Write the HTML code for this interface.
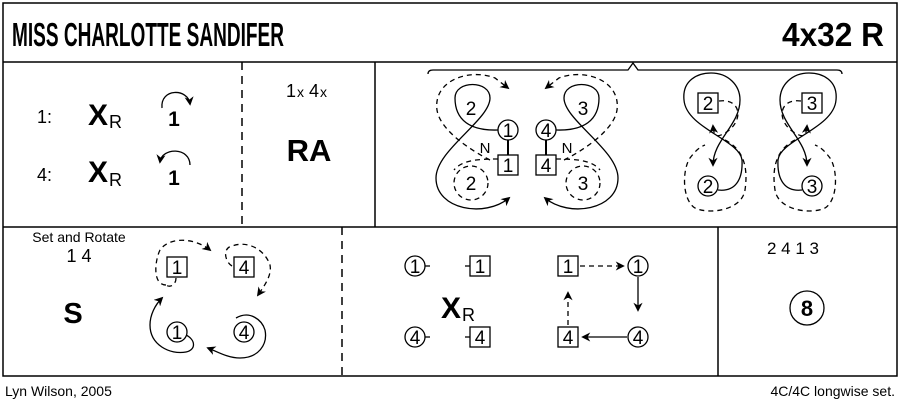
<!DOCTYPE html>
<html><head><meta charset="utf-8"><style>
html,body{margin:0;padding:0;background:#fff}
svg{display:block}
text{font-family:"Liberation Sans",sans-serif;fill:#000}
</style></head><body>
<svg width="900" height="408" viewBox="0 0 900 408" xmlns="http://www.w3.org/2000/svg">
<defs>
<marker id="a" viewBox="0 0 10 10" refX="8" refY="5" markerWidth="7" markerHeight="7" orient="auto"><path d="M0,0 L10,5 L0,10 L3,5 z" fill="#000"/></marker>
</defs>
<g fill="none" stroke="#000" stroke-width="1.5">
<rect x="3" y="3" width="894" height="373"/>
<line x1="3" y1="62" x2="897" y2="62"/>
<line x1="3" y1="227" x2="897" y2="227"/>
<line x1="375" y1="62" x2="375" y2="227"/>
<line x1="718" y1="227" x2="718" y2="376"/>
<line x1="242" y1="62" x2="242" y2="227" stroke-dasharray="8,6"/>
<line x1="342" y1="227" x2="342" y2="376" stroke-dasharray="8,6"/>
</g>
<text x="12" y="46" font-size="33" font-weight="bold" textLength="272" lengthAdjust="spacingAndGlyphs">MISS CHARLOTTE SANDIFER</text>
<text x="884" y="46" font-size="33" font-weight="bold" text-anchor="end" textLength="102" lengthAdjust="spacingAndGlyphs">4x32 R</text>

<!-- row 1 left -->
<text x="37" y="123" font-size="18">1:</text>
<text x="88" y="125" font-size="30" font-weight="bold">X</text><text x="109" y="128" font-size="18">R</text>
<text x="37" y="181" font-size="18">4:</text>
<text x="88" y="182" font-size="30" font-weight="bold">X</text><text x="109" y="186" font-size="18">R</text>
<text x="174" y="126" font-size="21" font-weight="bold" text-anchor="middle">1</text>
<text x="174" y="185" font-size="21" font-weight="bold" text-anchor="middle">1</text>
<g fill="none" stroke="#000" stroke-width="1.3">
<path d="M162,108 C160,88 188,88 190,104" marker-end="url(#a)"/>
<path d="M190,165 C190,147 162,147 160,162" marker-end="url(#a)"/>
</g>
<text x="286" y="97" font-size="18">1</text><text x="297" y="97" font-size="14">x</text>
<text x="309" y="97" font-size="18">4</text><text x="320" y="97" font-size="14">x</text>
<text x="309" y="161" font-size="31" font-weight="bold" text-anchor="middle">RA</text>

<!-- row 1 centre -->
<g fill="none" stroke="#000" stroke-width="1.3">
<path d="M428,74 Q428,70 433,70 L628,70 L633,63 L638,70 L837,70 Q842,70 842,74"/>
<path d="M498,130 C470,131 455,120 455,98 C455,80 490,80 490,98 C490,120 436,150 436,178 C436,210 485,218 509,198" marker-end="url(#a)"/>
<path d="M498,159 C478,159 462,160 454,170 M490,160 C470,150 440,130 437,110 C433,80 470,68 495,78 L508,88" stroke-dasharray="5,4" marker-end="url(#a)"/>
<circle cx="471" cy="183" r="17" stroke-dasharray="5,4"/>
<path d="M556,130 C584,131 599,120 599,98 C599,80 564,80 564,98 C564,120 618,150 618,178 C618,210 569,218 545,198" marker-end="url(#a)"/>
<path d="M564,160 C584,150 614,130 617,110 C621,80 584,68 559,78 L546,88" stroke-dasharray="5,4" marker-end="url(#a)"/>
<path d="M556,159 C576,159 592,160 600,170" stroke-dasharray="5,4"/>
<circle cx="583" cy="183" r="17" stroke-dasharray="5,4"/>
<circle cx="508" cy="130" r="10" fill="#fff"/>
<circle cx="546" cy="130" r="10" fill="#fff"/>
<line x1="508" y1="140" x2="508" y2="155" stroke-width="2"/>
<line x1="546" y1="140" x2="546" y2="155" stroke-width="2"/>
<rect x="498" y="155" width="20" height="20" fill="#fff"/>
<rect x="536" y="155" width="20" height="20" fill="#fff"/>
<!-- right figure eights -->
<g id="e8">
<path d="M718,190 C735,192 743,180 742,160 C740,140 686,128 684,100 C682,80 698,73 711,73 C728,73 740,85 740,100 C740,125 713,140 713,165" marker-end="url(#a)"/>
<path d="M719,101 C742,98 744,122 725,133 C718,137 714,138 713,126" stroke-dasharray="5,4" marker-end="url(#a)"/>
<path d="M725,140 C745,150 748,170 745,190 C742,210 710,215 695,208 C682,200 682,170 690,158 C696,150 700,147 705,145" stroke-dasharray="5,4"/>
<rect x="698" y="93" width="20" height="20" fill="#fff"/>
<circle cx="708" cy="186" r="10" fill="#fff"/>
</g>
<use href="#e8" transform="translate(1520,0) scale(-1,1)"/>
</g>
<g font-size="19" text-anchor="middle">
<text x="471" y="115">2</text><text x="583" y="115">3</text>
<text x="471" y="190">2</text><text x="583" y="190">3</text>
<text x="508" y="137">1</text><text x="546" y="137">4</text>
<text x="508" y="172">1</text><text x="546" y="172">4</text>
<text x="708" y="110">2</text><text x="812" y="110">3</text>
<text x="708" y="193">2</text><text x="812" y="193">3</text>
</g>
<text x="485" y="153" font-size="15" text-anchor="middle">N</text>
<text x="567" y="153" font-size="15" text-anchor="middle">N</text>

<!-- row 2 left -->
<text x="79" y="242" font-size="14" text-anchor="middle">Set and Rotate</text>
<text x="79" y="262" font-size="18" text-anchor="middle">1 4</text>
<text x="73" y="323" font-size="29" font-weight="bold" text-anchor="middle">S</text>
<g fill="none" stroke="#000" stroke-width="1.3">
<path d="M166,285 C152,285 155,260 160,250 C170,236 195,238 210,250" stroke-dasharray="5,4" marker-end="url(#a)"/>
<path d="M176,278 C176,285 170,288 166,285" stroke-dasharray="5,4"/>
<path d="M232,266 C225,262 222,248 232,246 C248,240 265,250 270,265 C272,275 265,285 258,295" stroke-dasharray="5,4" marker-end="url(#a)"/>
<path d="M186,335 C196,340 196,350 186,352 C170,355 150,345 150,325 C150,315 155,305 162,298" marker-end="url(#a)"/>
<path d="M236,318 C250,310 262,320 265,330 C268,345 258,358 240,358 C228,358 218,352 208,348" marker-end="url(#a)"/>
<rect x="167" y="257" width="20" height="20" fill="#fff"/>
<rect x="234" y="257" width="20" height="20" fill="#fff"/>
<circle cx="177" cy="332" r="10" fill="#fff"/>
<circle cx="244" cy="332" r="10" fill="#fff"/>
</g>
<g font-size="19" text-anchor="middle">
<text x="177" y="274">1</text><text x="244" y="274">4</text>
<text x="177" y="339">1</text><text x="244" y="339">4</text>
</g>

<!-- row 2 middle -->
<g fill="none" stroke="#000" stroke-width="1.3">
<circle cx="415" cy="266" r="10"/><circle cx="415" cy="337" r="10"/>
<line x1="425" y1="266" x2="430" y2="266"/><line x1="425" y1="337" x2="430" y2="337"/>
<line x1="465" y1="266" x2="470" y2="266"/><line x1="465" y1="337" x2="470" y2="337"/>
<rect x="470" y="256" width="20" height="20"/><rect x="470" y="327" width="20" height="20"/>
<rect x="558" y="256" width="20" height="20"/><rect x="558" y="327" width="20" height="20"/>
<circle cx="638" cy="266" r="10"/><circle cx="638" cy="337" r="10"/>
<line x1="580" y1="266" x2="623" y2="266" stroke-dasharray="5,4" marker-end="url(#a)"/>
<line x1="638" y1="277" x2="638" y2="310" marker-end="url(#a)"/>
<line x1="627" y1="337" x2="583" y2="337" marker-end="url(#a)"/>
<line x1="568" y1="325" x2="568" y2="293" stroke-dasharray="5,4" marker-end="url(#a)"/>
</g>
<g font-size="19" text-anchor="middle">
<text x="415" y="273">1</text><text x="415" y="344">4</text>
<text x="480" y="273">1</text><text x="480" y="344">4</text>
<text x="568" y="273">1</text><text x="568" y="344">4</text>
<text x="638" y="273">1</text><text x="638" y="344">4</text>
</g>
<text x="441" y="318" font-size="30" font-weight="bold">X</text><text x="462" y="321" font-size="18">R</text>

<!-- row 2 right -->
<text x="793" y="254" font-size="17" text-anchor="middle">2 4 1 3</text>
<circle cx="807" cy="308" r="17" fill="none" stroke="#000" stroke-width="1.3"/>
<text x="807" y="316" font-size="22" font-weight="bold" text-anchor="middle">8</text>

<text x="5" y="396" font-size="14">Lyn Wilson, 2005</text>
<text x="895" y="396" font-size="14" text-anchor="end">4C/4C longwise set.</text>
</svg>
</body></html>
